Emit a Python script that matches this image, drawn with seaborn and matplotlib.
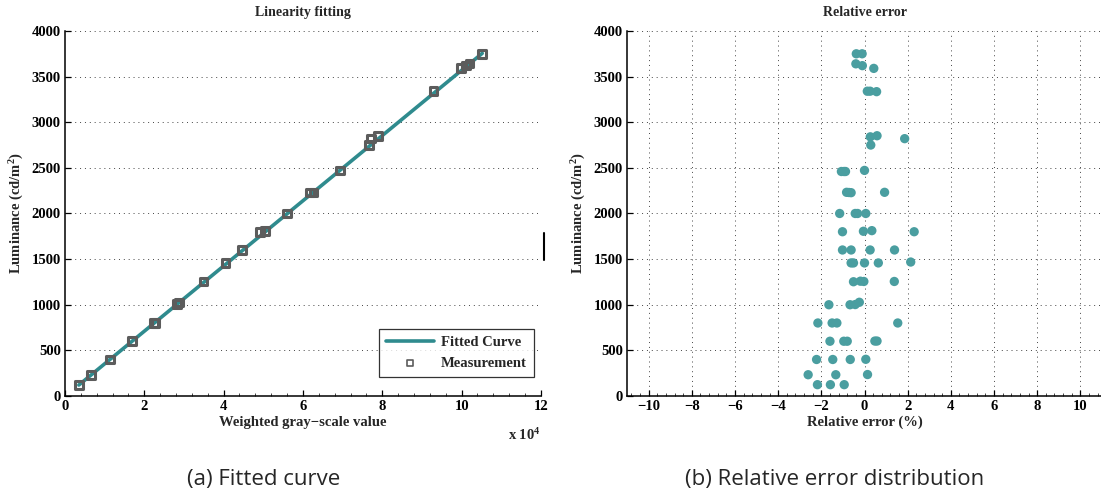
import numpy as np
import pandas as pd
import matplotlib
matplotlib.use("Agg")
import matplotlib.pyplot as plt
import seaborn as sns
from matplotlib.ticker import FuncFormatter, MultipleLocator, AutoMinorLocator

# Datos: medidas (valor gris ponderado, luminancia)
meas_gray = [0.35e4, 0.66e4, 1.13e4, 1.69e4, 2.24e4, 2.28e4, 2.82e4, 2.88e4, 3.49e4,
             4.05e4, 4.46e4, 4.92e4, 5.04e4, 5.60e4, 6.18e4, 6.27e4, 6.94e4, 7.66e4,
             7.72e4, 7.90e4, 9.29e4, 9.99e4, 10.11e4, 10.20e4, 10.52e4]
meas_lum = [120, 233, 400, 604, 800, 800, 1005, 1025, 1255, 1458, 1598, 1800, 1805,
            2000, 2232, 2232, 2470, 2752, 2820, 2850, 3340, 3592, 3620, 3642, 3750]

# Recta ajustada (extremos)
fit_gray = [0.35e4, 10.52e4]
fit_lum = [120, 3755]

# Error relativo (%) frente a luminancia
err_pct = [-0.38, -0.11, -0.40, -0.10, 0.43,
           0.13, 0.26, 0.56,
           0.27, 0.58, 1.86, 0.29,
           -1.07, -0.95, -0.88, 0.00,
           -0.83, -0.72, -0.62, 0.93,
           -1.15, -0.43, -0.32, 0.06,
           -1.02, 2.30, -0.05, 0.34,
           -1.02, -0.62, 0.26, 1.39,
           -0.62, -0.51, 0.00, 0.64, 2.14,
           -0.51, 1.38, -0.19, -0.03,
           -1.65, -0.67, -0.43, -0.24,
           -2.16, -1.50, -1.28, 1.54,
           -1.60, -0.96, -0.80, 0.48, 0.58,
           -2.22, -1.47, -0.66, 0.06,
           -2.61, -1.33, 0.14,
           -2.18, -1.58, -0.94]
err_lum = [3750, 3750, 3640, 3620, 3590,
           3340, 3340, 3335,
           2840, 2852, 2820, 2750,
           2460, 2460, 2460, 2472,
           2232, 2230, 2228, 2232,
           2000, 2000, 2000, 2000,
           1800, 1800, 1805, 1812,
           1600, 1600, 1600, 1600,
           1458, 1458, 1458, 1458, 1468,
           1252, 1255, 1258, 1255,
           1000, 1000, 1002, 1027,
           800, 800, 800, 800,
           600, 600, 600, 602, 602,
           400, 400, 400, 402,
           233, 233, 235,
           124, 124, 124]

df_meas = pd.DataFrame({"gray": meas_gray, "lum": meas_lum})
df_fit = pd.DataFrame({"gray": fit_gray, "lum": fit_lum})
df_err = pd.DataFrame({"err": err_pct, "lum": err_lum})

sns.set_style("white")
plt.rcParams["font.family"] = ["Liberation Serif", "DejaVu Serif"]
plt.rcParams["font.weight"] = "bold"
plt.rcParams["mathtext.fontset"] = "custom"
plt.rcParams["mathtext.rm"] = "Liberation Serif:bold"
plt.rcParams["mathtext.it"] = "Liberation Serif:bold"
plt.rcParams["mathtext.bf"] = "Liberation Serif:bold"

teal_line = "#2f8b8e"
teal_dot = "#4a9ea0"
gray_mk = "#5c5c5c"

fig = plt.figure(figsize=(11.01, 4.94), dpi=100)
ax1 = fig.add_axes([0.0590, 0.1984, 0.4323, 0.7389])
ax2 = fig.add_axes([0.5695, 0.1984, 0.4314, 0.7389])

def style_axes(ax):
    for s in ["top", "right"]:
        ax.spines[s].set_visible(False)
    for s in ["left", "bottom"]:
        ax.spines[s].set_color("black")
        ax.spines[s].set_linewidth(1.1)
    ax.tick_params(axis="both", which="major", direction="in", length=4, width=0.9,
                   labelsize=10.5, colors="black", pad=3,
                   bottom=True, left=True)
    ax.tick_params(axis="x", which="minor", direction="in", length=2, width=0.6,
                   bottom=True)

# (a) Ajuste lineal
sns.lineplot(data=df_fit, x="gray", y="lum", ax=ax1, color=teal_line, linewidth=2.6,
             label="Fitted Curve", zorder=2)
sns.scatterplot(data=df_meas, x="gray", y="lum", ax=ax1, marker="s", s=30,
                facecolor="none", edgecolor=gray_mk, linewidth=2.2,
                label="Measurement", zorder=3)
ax1.set_xlim(0, 12e4)
ax1.set_ylim(0, 4000)
ax1.xaxis.set_major_locator(MultipleLocator(2e4))
ax1.xaxis.set_minor_locator(AutoMinorLocator(5))
ax1.yaxis.set_major_locator(MultipleLocator(500))
ax1.xaxis.set_major_formatter(FuncFormatter(lambda v, p: f"{v / 1e4:g}"))
ax1.grid(axis="y", linestyle=(0, (1, 4)), color="#444444", linewidth=0.7)
ax1.grid(axis="x", visible=False)
style_axes(ax1)
ax1.set_title("Linearity fitting", fontsize=10, fontweight="bold", pad=11)
ax1.set_xlabel("Weighted gray\u2212scale value", fontsize=10.5, fontweight="bold", labelpad=2)
ax1.set_ylabel("Luminance (cd/m$^2$)", fontsize=10.5, fontweight="bold", labelpad=4)
ax1.text(1.0, -0.085, "x 10$^4$", transform=ax1.transAxes, ha="right", va="top",
         fontsize=10.5, fontweight="bold")
leg = ax1.legend(loc="lower right", bbox_to_anchor=(1.0, 0.033), frameon=True,
                 fancybox=False, edgecolor="black", fontsize=10.5, handlelength=3.3,
                 borderpad=0.45, labelspacing=0.55, handletextpad=0.5)
leg.get_frame().set_linewidth(0.9)
for t in leg.get_texts():
    t.set_fontweight("bold")
for h in leg.legend_handles:
    if hasattr(h, "set_sizes"):
        h.set_sizes([20])
        h.set_linewidth(1.2)

# (b) Error relativo
sns.scatterplot(data=df_err, x="err", y="lum", ax=ax2, color=teal_dot, s=45,
                edgecolor="none", zorder=3)
ax2.set_xlim(-11, 11)
ax2.set_ylim(0, 4000)
ax2.xaxis.set_major_locator(MultipleLocator(2))
ax2.xaxis.set_minor_locator(AutoMinorLocator(5))
ax2.yaxis.set_major_locator(MultipleLocator(500))
ax2.grid(True, which="major", linestyle=(0, (1, 4)), color="#444444", linewidth=0.7)
style_axes(ax2)
ax2.set_title("Relative error", fontsize=10, fontweight="bold", pad=11)
ax2.set_xlabel("Relative error (%)", fontsize=10.5, fontweight="bold", labelpad=2)
ax2.set_ylabel("Luminance (cd/m$^2$)", fontsize=10.5, fontweight="bold", labelpad=4)

# Marca vertical suelta junto al panel (a)
fig.add_artist(plt.Line2D([544 / 1101, 544 / 1101], [1 - 233 / 494, 1 - 260 / 494],
                          color="black", linewidth=1.5, transform=fig.transFigure))

# Subtítulos
fig.text(264 / 1101, 1 - 479 / 494, "(a) Fitted curve", ha="center", va="center",
         fontsize=16, family="Open Sans", fontweight="normal")
fig.text(835 / 1101, 1 - 479 / 494, "(b) Relative error distribution", ha="center",
         va="center", fontsize=16, family="Open Sans", fontweight="normal")

fig.savefig("out.png", dpi=100)
